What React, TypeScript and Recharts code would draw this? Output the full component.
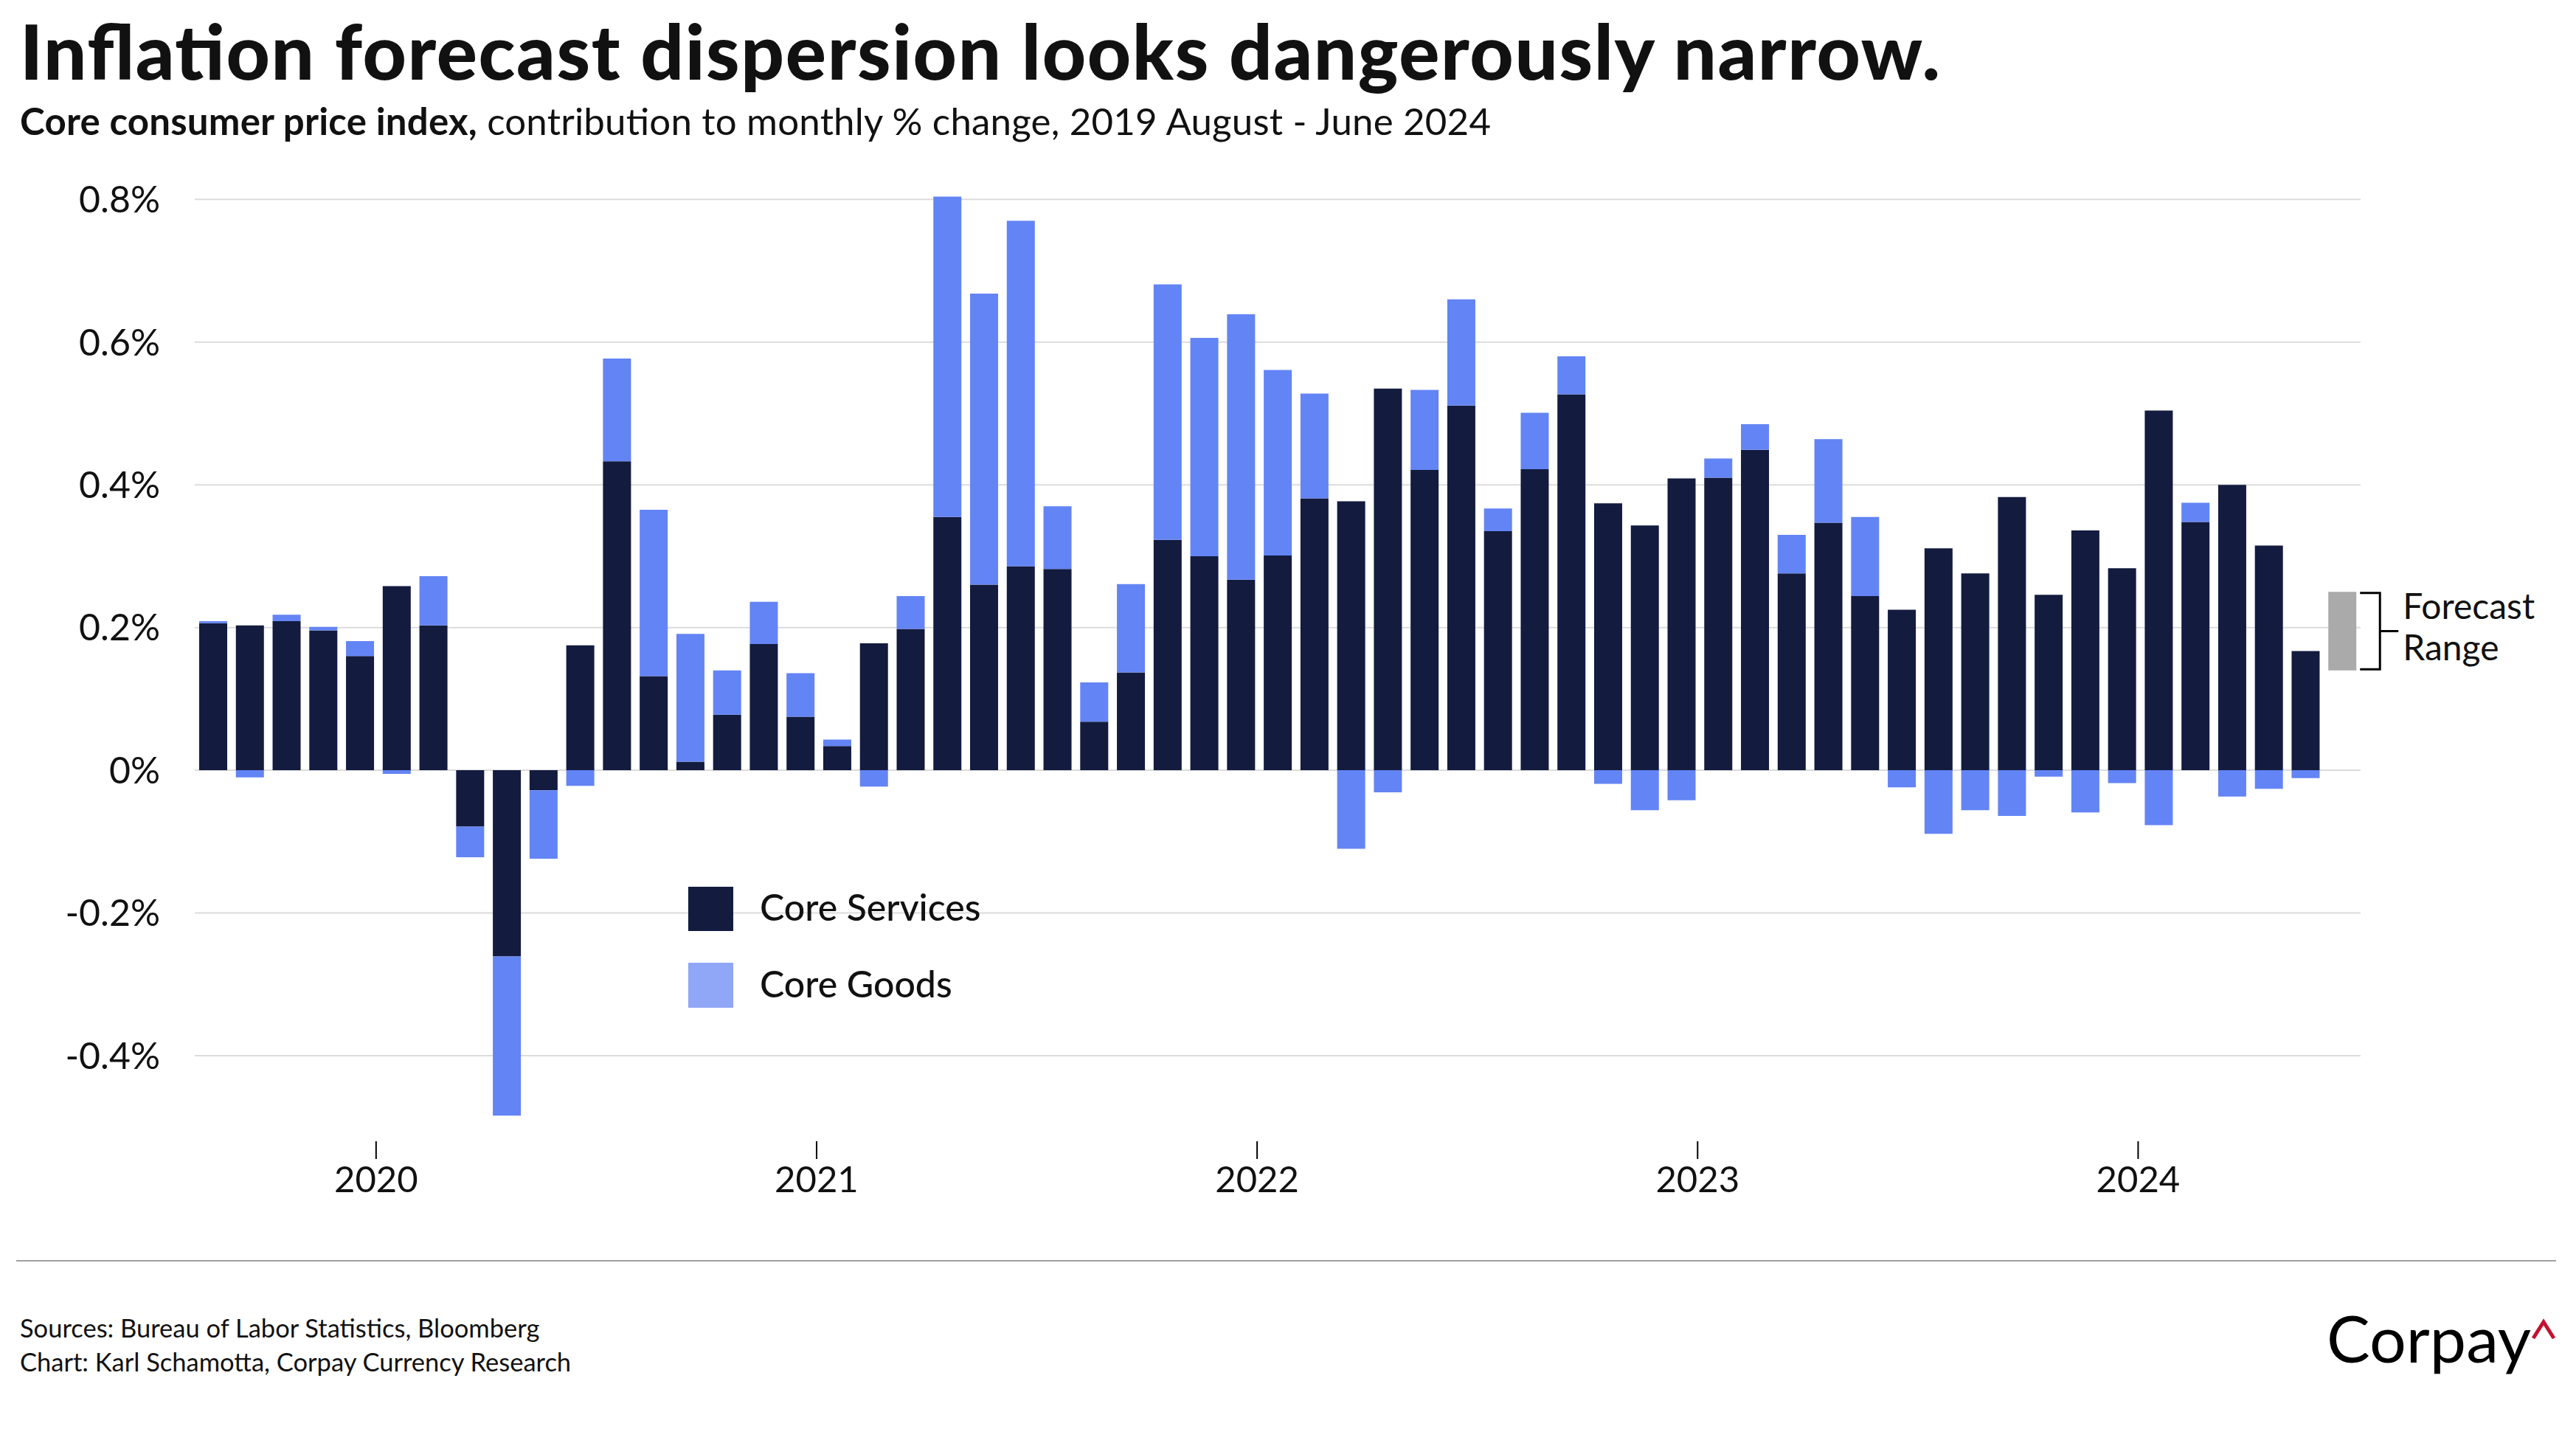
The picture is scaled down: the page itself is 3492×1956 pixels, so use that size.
import React from 'react';
import { BarChart, Bar, XAxis, YAxis, CartesianGrid, LabelList } from 'recharts';

// monthly categories, Aug 2019 .. Jun 2024 (last one is the forecast month)
const months = [
  '2019-08', '2019-09', '2019-10', '2019-11', '2019-12',
  '2020-01', '2020-02', '2020-03', '2020-04', '2020-05', '2020-06', '2020-07', '2020-08', '2020-09', '2020-10', '2020-11', '2020-12',
  '2021-01', '2021-02', '2021-03', '2021-04', '2021-05', '2021-06', '2021-07', '2021-08', '2021-09', '2021-10', '2021-11', '2021-12',
  '2022-01', '2022-02', '2022-03', '2022-04', '2022-05', '2022-06', '2022-07', '2022-08', '2022-09', '2022-10', '2022-11', '2022-12',
  '2023-01', '2023-02', '2023-03', '2023-04', '2023-05', '2023-06', '2023-07', '2023-08', '2023-09', '2023-10', '2023-11', '2023-12',
  '2024-01', '2024-02', '2024-03', '2024-04', '2024-05', '2024-06',
];

const coreServices = [
  0.206, 0.203, 0.209, 0.196, 0.160,
  0.258, 0.203, -0.079, -0.261, -0.028, 0.175, 0.433, 0.132, 0.012, 0.078, 0.177, 0.075,
  0.034, 0.178, 0.198, 0.355, 0.260, 0.286, 0.282, 0.068, 0.137, 0.323, 0.300, 0.267,
  0.301, 0.381, 0.377, 0.535, 0.421, 0.511, 0.335, 0.422, 0.527, 0.374, 0.343, 0.409,
  0.410, 0.449, 0.276, 0.347, 0.244, 0.225, 0.311, 0.276, 0.383, 0.246, 0.336, 0.283,
  0.504, 0.348, 0.400, 0.315, 0.167,
];

const coreGoods = [
  0.003, -0.010, 0.009, 0.005, 0.021,
  -0.005, 0.069, -0.043, -0.223, -0.096, -0.022, 0.144, 0.233, 0.179, 0.062, 0.059, 0.061,
  0.009, -0.023, 0.046, 0.449, 0.408, 0.484, 0.088, 0.055, 0.124, 0.358, 0.306, 0.372,
  0.260, 0.147, -0.110, -0.031, 0.112, 0.149, 0.032, 0.079, 0.053, -0.019, -0.056, -0.042,
  0.027, 0.036, 0.054, 0.117, 0.111, -0.024, -0.089, -0.056, -0.064, -0.009, -0.059, -0.018,
  -0.077, 0.027, -0.037, -0.026, -0.011,
];

const forecastMonth = '2024-06';
const forecastLow = 0.14;
const forecastHigh = 0.25;

const yTicks = [-0.4, -0.2, 0, 0.2, 0.4, 0.6, 0.8];
const Y_MIN = -0.52;
const Y_MAX = 0.82;

const NAVY = '#131b3f';
const BLUE = '#6384f4';
const LEGEND_BLUE = '#90a6f6';
const GREY = '#aaaaaa';
const INK = '#111111';
const FONT = 'Lato, "Noto Sans", sans-serif';

const data = months.map((month, i) => ({
  month,
  services: coreServices[i] ?? null,
  goods: coreGoods[i] ?? null,
  forecastBase: month === forecastMonth ? forecastLow : null,
  forecastSpan: month === forecastMonth ? forecastHigh - forecastLow : null,
}));

const CHART_W = 3492;
const CHART_H = 1700;
const MARGIN = { top: 251, right: 292, bottom: 73, left: 0 };
const Y_AXIS_W = 264;
const BAND = (CHART_W - MARGIN.left - MARGIN.right - Y_AXIS_W) / months.length;

const pct = (v: number) => (v === 0 ? '0%' : `${v.toFixed(1)}%`);

// grid only at the labelled ticks (no line at the bottom edge of the plot)
const gridRows = ({ offset }: any) =>
  yTicks.map((t) => offset.top + ((Y_MAX - t) / (Y_MAX - Y_MIN)) * offset.height);

// year ticks sit on the Dec/Jan boundary, not on the bar centre
const YearTick = (props: any) => {
  const { x, y, payload } = props;
  const value: string = payload?.value ?? '';
  if (!value.endsWith('-01')) return null;
  const tx = x - BAND / 2 - 3;
  return (
    <g>
      <line x1={tx} x2={tx} y1={y - 8} y2={y + 16} stroke="#000" strokeWidth={2} />
      <text x={tx} y={y + 61} textAnchor="middle" fontSize={49} fontFamily={FONT} fill={INK}>
        {value.slice(0, 4)}
      </text>
    </g>
  );
};

const ForecastLabel = (props: any) => {
  const { value } = props;
  if (value == null) return null;
  const vb = props.viewBox ?? props;
  const { x, y, width, height } = vb;
  const top = Math.min(y, y + height);
  const h = Math.abs(height);
  const bx = x + width + 5;
  return (
    <g>
      <path
        d={`M${bx} ${top + 1.5} H${bx + 27} V${top + h - 1.5} H${bx}`}
        fill="none"
        stroke="#000"
        strokeWidth={3}
      />
      <line x1={bx + 27} x2={bx + 52} y1={top + h / 2} y2={top + h / 2} stroke="#000" strokeWidth={3} />
      <text x={bx + 58} y={top + 37} fontSize={48} fontFamily={FONT} fill={INK}>Forecast</text>
      <text x={bx + 58} y={top + 93} fontSize={48} fontFamily={FONT} fill={INK}>Range</text>
    </g>
  );
};

export default function App() {
  return (
    <div style={{ position: 'fixed', left: 0, top: 0, width: 3492, height: 1956, background: '#fff', overflow: 'hidden' }}>
      <div style={{ position: 'absolute', left: 0, top: 0 }}>
        <BarChart
          width={CHART_W}
          height={CHART_H}
          data={data}
          margin={MARGIN}
          stackOffset="sign"
          barSize={38}
        >
          <CartesianGrid
            vertical={false}
            stroke="#dcdcdc"
            strokeWidth={2}
            horizontalCoordinatesGenerator={gridRows}
          />
          <XAxis
            dataKey="month"
            interval={0}
            height={80}
            axisLine={false}
            tickLine={false}
            tick={<YearTick />}
          />
          <YAxis
            type="number"
            domain={[Y_MIN, Y_MAX]}
            ticks={yTicks}
            tickFormatter={pct}
            width={Y_AXIS_W}
            axisLine={false}
            tickLine={false}
            tickMargin={41}
            tick={{ fontSize: 50, fill: INK, fontFamily: FONT }}
          />
          <Bar dataKey="services" stackId="cpi" fill={NAVY} isAnimationActive={false} />
          <Bar dataKey="goods" stackId="cpi" fill={BLUE} isAnimationActive={false} />
          <Bar dataKey="forecastBase" stackId="cpi" fill="transparent" isAnimationActive={false} />
          <Bar dataKey="forecastSpan" stackId="cpi" fill={GREY} isAnimationActive={false}>
            <LabelList dataKey="forecastSpan" content={<ForecastLabel />} />
          </Bar>
        </BarChart>
      </div>

      <svg
        width={3492}
        height={1956}
        style={{ position: 'absolute', left: 0, top: 0, pointerEvents: 'none' }}
      >
        <text
          x={27}
          y={108}
          fontSize={103}
          fontWeight={900}
          fontFamily={FONT}
          fill={INK}
          textLength={2603}
          lengthAdjust="spacing"
        >
          Inflation forecast dispersion looks dangerously narrow.
        </text>
        <text x={27} y={183} fontSize={51} fontFamily={FONT} fill={INK} textLength={1994} lengthAdjust="spacing">
          <tspan fontWeight={700}>Core consumer price index,</tspan>
          <tspan> contribution to monthly % change, 2019 August - June 2024</tspan>
        </text>

        {/* legend */}
        <rect x={933} y={1202} width={61} height={60} fill={NAVY} />
        <text x={1030} y={1248} fontSize={50} fontWeight={500} fontFamily={FONT} fill={INK}>Core Services</text>
        <rect x={933} y={1305} width={61} height={61} fill={LEGEND_BLUE} />
        <text x={1030} y={1352} fontSize={50} fontWeight={500} fontFamily={FONT} fill={INK}>Core Goods</text>

        {/* footer */}
        <line x1={22} x2={3465} y1={1709} y2={1709} stroke="#a0a0a0" strokeWidth={2} />
        <text x={27} y={1813} fontSize={34.5} fontFamily={FONT} fill={INK}>
          Sources: Bureau of Labor Statistics, Bloomberg
        </text>
        <text x={27} y={1859} fontSize={34.5} fontFamily={FONT} fill={INK}>
          Chart: Karl Schamotta, Corpay Currency Research
        </text>
        <text x={3154} y={1847} fontSize={88} fontFamily={FONT} fill="#000">Corpay</text>
        <path d="M3434 1814 L3448 1792 L3462 1814" fill="none" stroke="#c41230" strokeWidth={5} />
      </svg>
    </div>
  );
}
